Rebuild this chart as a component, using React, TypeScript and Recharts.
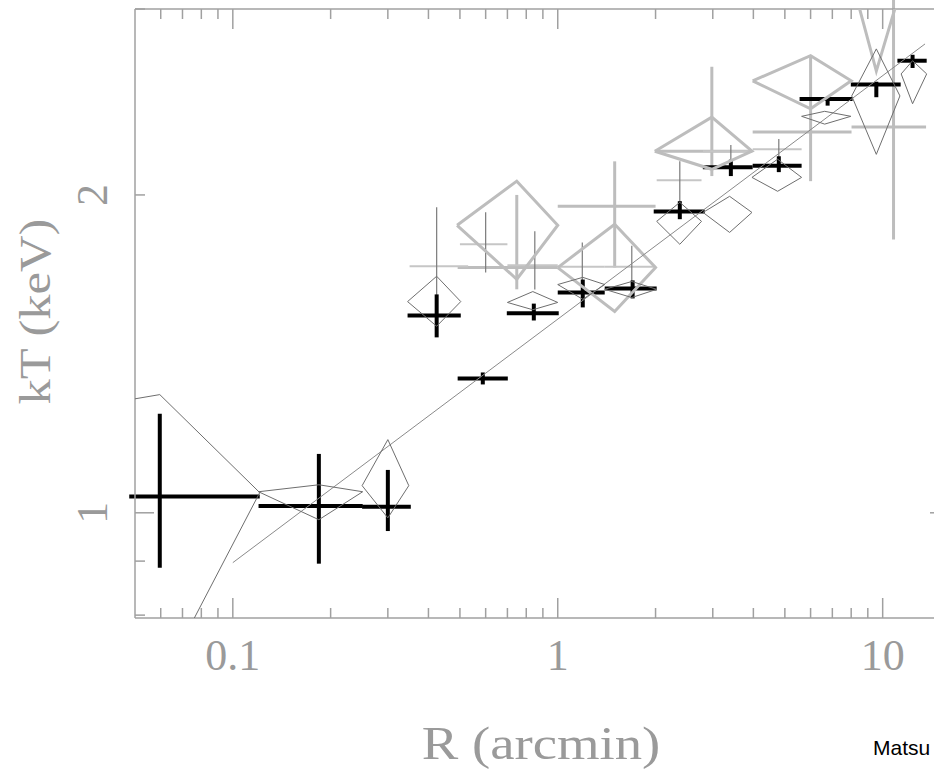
import React from "react";
import { ScatterChart, Scatter, XAxis, YAxis, ErrorBar } from "recharts";

// thick black crosses (R in arcmin, kT in keV)
const blackR = [0.0596, 0.184, 0.3, 0.424, 0.588, 0.844, 1.194, 1.7, 2.375, 3.41, 4.79, 6.77, 9.56, 12.36];
const blackRLo = [0.048, 0.12, 0.25, 0.345, 0.492, 0.697, 1.0, 1.395, 1.974, 2.796, 3.98, 5.55, 7.98, 11.1];
const blackRHi = [0.121, 0.251, 0.353, 0.503, 0.702, 1.007, 1.395, 2.016, 2.833, 3.98, 5.63, 8.08, 11.36, 13.66];
const blackKT = [1.036, 1.015, 1.013, 1.538, 1.34, 1.545, 1.617, 1.631, 1.929, 2.125, 2.131, 2.466, 2.544, 2.68];
const blackKTLo = [0.887, 0.895, 0.961, 1.466, 1.323, 1.521, 1.565, 1.596, 1.897, 2.084, 2.102, 2.43, 2.475, 2.638];
const blackKTHi = [1.241, 1.137, 1.098, 1.61, 1.358, 1.578, 1.663, 1.66, 1.973, 2.16, 2.176, 2.475, 2.56, 2.715];

// thin dark diamonds
const thinR = [0.0596, 0.184, 0.3, 0.424, 0.838, 1.194, 1.69, 2.375, 3.38, 4.75, 6.63, 9.56, 12.36];
const thinRLo = [0.001, 0.12, 0.25, 0.345, 0.7, 1.0, 1.395, 2.016, 2.8, 3.96, 5.63, 8.03, 11.4];
const thinRHi = [0.121, 0.251, 0.348, 0.503, 1.0, 1.395, 2.016, 2.77, 3.96, 5.63, 7.98, 11.3, 13.66];
const thinKT = [1.045, 1.047, 1.061, 1.585, 1.582, 1.645, 1.628, 1.888, 1.925, 2.078, 2.374, 2.482, 2.604];
const thinKTLo = [0.688, 0.985, 0.989, 1.502, 1.557, 1.593, 1.599, 1.796, 1.843, 2.016, 2.334, 2.185, 2.44];
const thinKTHi = [1.294, 1.063, 1.173, 1.675, 1.62, 1.671, 1.656, 1.968, 1.994, 2.162, 2.4, 2.75, 2.68];

// thin gray crosses
const crossR = [0.424, 0.6, 0.85, 1.19, 1.69, 2.375, 3.41, 4.79];
const crossRLo = [0.35, 0.5, 0.7, 1.0, 1.39, 2.016, 2.8, 3.98];
const crossRHi = [0.53, 0.7, 1.0, 1.39, 2.0, 2.77, 3.98, 5.63];
const crossKT = [1.712, 1.796, 1.716, 1.71, 1.71, 2.065, 2.2, 2.21];
const crossKTLo = [1.59, 1.689, 1.627, 1.617, 1.617, 1.968, 2.084, 2.105];
const crossKTHi = [1.947, 1.926, 1.848, 1.803, 1.79, 2.152, 2.23, 2.26];

// thick light gray crosses
const grayR = [0.748, 1.497, 2.98, 6.0, 10.8];
const grayRLo = [0.492, 1.0, 1.99, 3.98, 8.02];
const grayRHi = [1.0, 2.0, 3.96, 8.02, 13.6];
const grayKT = [1.707, 1.951, 2.2, 2.294, 2.319];
const grayKTLo = [1.628, 1.707, 2.084, 2.061, 1.815];
const grayKTHi = [2.0, 2.152, 2.645, 2.71, 3.3];

// thick light gray diamonds
const bigR = [0.748, 1.497, 2.98, 6.0, 9.56];
const bigRLo = [0.49, 1.0, 1.99, 3.98, 8.03];
const bigRHi = [1.0, 2.0, 3.96, 8.0, 11.6];
const bigKT = [1.872, 1.707, 2.2, 2.565, 3.2];
const bigKTLo = [1.664, 1.551, 2.115, 2.413, 2.62];
const bigKTHi = [2.061, 1.876, 2.37, 2.71, 3.8];

// straight model line
const modelR = [0.1, 13.5];
const modelKT = [0.897, 2.78];

const xTicks = [0.06, 0.07, 0.08, 0.09, 0.1, 0.2, 0.3, 0.4, 0.5, 0.6, 0.7, 0.8, 0.9, 1, 2, 3, 4, 5, 6, 7, 8, 9, 10];
const xMajor = [0.1, 1, 10];
const yTicks = [0.8, 0.9, 1, 2, 3];
const yMajor = [1];
const yLabeled = [1, 2];

const SERIF = '"Liberation Serif", "DejaVu Serif", serif';
const AXIS = "#a0a0a0";
const TEXT = "#9a9a9a";
const LIGHT = "#bdbdbd";
const THIN = "#6e6e6e";

const buildCrosses = (r: number[], rLo: number[], rHi: number[], kT: number[], kLo: number[], kHi: number[]) =>
  r.map((x, i) => ({
    x,
    y: kT[i],
    ex: [x - rLo[i], rHi[i] - x],
    ey: [kT[i] - kLo[i], kHi[i] - kT[i]],
  }));

// each diamond is a closed path through the four error extremes
const buildDiamonds = (r: number[], rLo: number[], rHi: number[], kT: number[], kLo: number[], kHi: number[]) =>
  r.map((x, i) => [
    { x: rLo[i], y: kT[i] },
    { x, y: kHi[i] },
    { x: rHi[i], y: kT[i] },
    { x, y: kLo[i] },
    { x: rLo[i], y: kT[i] },
  ]);

const blackData = buildCrosses(blackR, blackRLo, blackRHi, blackKT, blackKTLo, blackKTHi);
const crossData = buildCrosses(crossR, crossRLo, crossRHi, crossKT, crossKTLo, crossKTHi);
const grayData = buildCrosses(grayR, grayRLo, grayRHi, grayKT, grayKTLo, grayKTHi);
const thinDiamonds = buildDiamonds(thinR, thinRLo, thinRHi, thinKT, thinKTLo, thinKTHi);
const bigDiamonds = buildDiamonds(bigR, bigRLo, bigRHi, bigKT, bigKTLo, bigKTHi);
const modelData = modelR.map((x, i) => ({ x, y: modelKT[i] }));

const noDot = () => <g />;

const makeXTick = (side: "top" | "bottom") => (props: any) => {
  const { x, y, payload } = props;
  const major = xMajor.includes(payload.value);
  const len = major ? 20 : 10;
  const dir = side === "bottom" ? -1 : 1;
  return (
    <g>
      <line x1={x} y1={y} x2={x} y2={y + dir * len} stroke={AXIS} strokeWidth={1.5} />
      {side === "bottom" && major && (
        <text x={x} y={y + 52} textAnchor="middle" fontFamily={SERIF} fontSize={44} fill={TEXT}>
          {String(payload.value)}
        </text>
      )}
    </g>
  );
};

const makeYTick = (side: "left" | "right") => (props: any) => {
  const { x, y, payload } = props;
  const len = yMajor.includes(payload.value) ? 19 : 10;
  const dir = side === "left" ? 1 : -1;
  return (
    <g>
      <line x1={x} y1={y} x2={x + dir * len} y2={y} stroke={AXIS} strokeWidth={1.5} />
      {side === "left" && yLabeled.includes(payload.value) && (
        <g transform={`translate(${x - 28},${y}) rotate(-90)`}>
          <text x={0} y={0} textAnchor="middle" fontFamily={SERIF} fontSize={44} fill={TEXT}>
            {String(payload.value)}
          </text>
        </g>
      )}
    </g>
  );
};

const XTitle = (props: any) => {
  const vb = props.viewBox || { x: 135, y: 618, width: 814, height: 155 };
  return (
    <g>
      <g transform={`translate(${vb.x + vb.width / 2 - 1},${vb.y + 141}) scale(1.19,1)`}>
        <text x={0} y={0} textAnchor="middle" fontFamily={SERIF} fontSize={46} fill={TEXT}>
          R (arcmin)
        </text>
      </g>
      <text x={873} y={vb.y + 137} fontFamily='"Liberation Sans", Arial, sans-serif' fontSize={21} fill="#000">
        Matsu
      </text>
    </g>
  );
};

const YTitle = (props: any) => {
  const vb = props.viewBox || { x: 0, y: 9, width: 135, height: 609 };
  return (
    <g transform={`translate(50,${vb.y + vb.height / 2 - 2}) rotate(-90) scale(1.15,1)`}>
      <text x={0} y={0} textAnchor="middle" fontFamily={SERIF} fontSize={44} fill={TEXT}>
        kT (keV)
      </text>
    </g>
  );
};

const App = () => {
  return (
    <div
      style={{
        position: "absolute",
        left: 0,
        top: 0,
        width: 934,
        height: 773,
        overflow: "hidden",
        background: "#fff",
      }}
    >
      <ScatterChart width={959} height={773} margin={{ top: 0, right: 0, bottom: 0, left: 0 }}>
        <XAxis
          xAxisId={0}
          dataKey="x"
          type="number"
          scale="log"
          domain={[0.05, 16]}
          allowDataOverflow
          orientation="bottom"
          height={155}
          ticks={xTicks}
          interval={0}
          tickSize={0}
          tickMargin={0}
          tickLine={false}
          tick={makeXTick("bottom")}
          axisLine={{ stroke: AXIS, strokeWidth: 1.5 }}
          label={XTitle}
        />
        <XAxis
          xAxisId="top"
          dataKey="x"
          type="number"
          scale="log"
          domain={[0.05, 16]}
          allowDataOverflow
          orientation="top"
          height={9}
          ticks={xTicks}
          interval={0}
          tickSize={0}
          tickMargin={0}
          tickLine={false}
          tick={makeXTick("top")}
          axisLine={{ stroke: AXIS, strokeWidth: 1.5 }}
        />
        <YAxis
          yAxisId={0}
          dataKey="y"
          type="number"
          scale="log"
          domain={[0.795, 3]}
          allowDataOverflow
          orientation="left"
          width={135}
          ticks={yTicks}
          interval={0}
          tickSize={0}
          tickMargin={0}
          tickLine={false}
          tick={makeYTick("left")}
          axisLine={{ stroke: AXIS, strokeWidth: 1.5 }}
          label={YTitle}
        />
        <YAxis
          yAxisId="right"
          dataKey="y"
          type="number"
          scale="log"
          domain={[0.795, 3]}
          allowDataOverflow
          orientation="right"
          width={10}
          ticks={yTicks}
          interval={0}
          tickSize={0}
          tickMargin={0}
          tickLine={false}
          tick={makeYTick("right")}
          axisLine={{ stroke: AXIS, strokeWidth: 1.5 }}
        />

        {bigDiamonds.map((d, i) => (
          <Scatter
            key={`big-${i}`}
            data={d}
            line={{ stroke: LIGHT, strokeWidth: 3 }}
            shape={noDot}
            isAnimationActive={false}
          />
        ))}
        <Scatter data={grayData} shape={noDot} isAnimationActive={false}>
          <ErrorBar dataKey="ex" direction="x" width={0} stroke={LIGHT} strokeWidth={3} />
          <ErrorBar dataKey="ey" direction="y" width={0} stroke={LIGHT} strokeWidth={3} />
        </Scatter>
        <Scatter data={crossData} shape={noDot} isAnimationActive={false}>
          <ErrorBar dataKey="ex" direction="x" width={0} stroke="#c6c6c6" strokeWidth={2} />
          <ErrorBar dataKey="ey" direction="y" width={0} stroke="#7a7a7a" strokeWidth={1.2} />
        </Scatter>
        <Scatter
          data={modelData}
          line={{ stroke: "#8a8a8a", strokeWidth: 1 }}
          shape={noDot}
          isAnimationActive={false}
        />
        {thinDiamonds.map((d, i) => (
          <Scatter
            key={`thin-${i}`}
            data={d}
            line={{ stroke: THIN, strokeWidth: 1 }}
            shape={noDot}
            isAnimationActive={false}
          />
        ))}
        <Scatter data={blackData} shape={noDot} isAnimationActive={false}>
          <ErrorBar dataKey="ex" direction="x" width={0} stroke="#000" strokeWidth={4} />
          <ErrorBar dataKey="ey" direction="y" width={0} stroke="#000" strokeWidth={4} />
        </Scatter>
      </ScatterChart>
    </div>
  );
};

export default App;
